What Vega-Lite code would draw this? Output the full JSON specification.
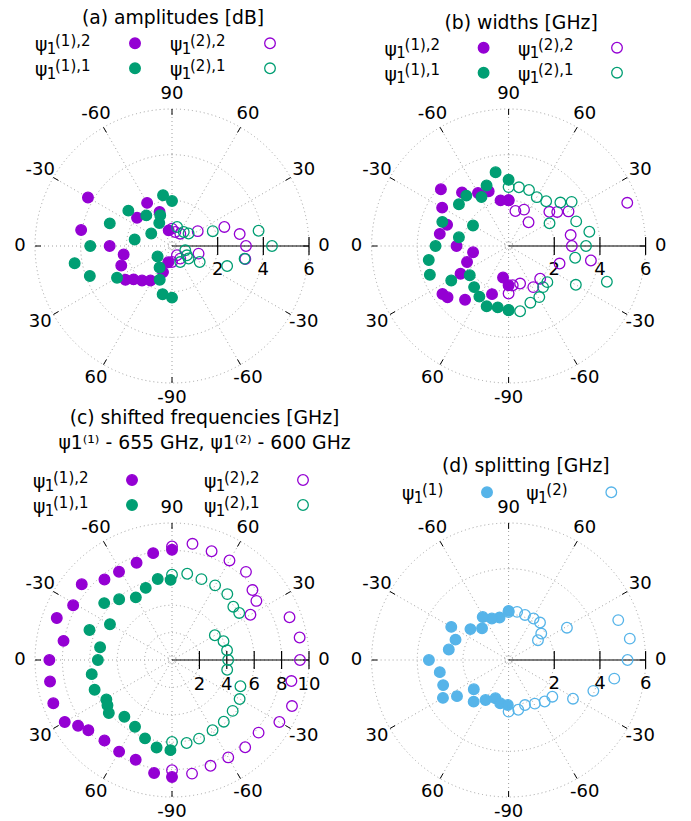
{
  "$schema": "https://vega.github.io/schema/vega-lite/v6.json",
  "background": "white",
  "padding": {"left": 14, "top": 9, "right": 5, "bottom": 5},
  "config": {
    "view": {"stroke": null},
    "font": "DejaVu Sans",
    "text": {"font": "DejaVu Sans", "color": "black"},
    "title": {"font": "DejaVu Sans", "fontSize": 18.8, "fontWeight": "normal", "color": "black"}
  },
  "datasets": {
    "angles": [
      {"pos": 0, "label": "0"}, {"pos": 30, "label": "30"}, {"pos": 60, "label": "60"}, {"pos": 90, "label": "90"},
      {"pos": 120, "label": "-60"}, {"pos": 150, "label": "-30"}, {"pos": 180, "label": "0"}, {"pos": 210, "label": "30"},
      {"pos": 240, "label": "60"}, {"pos": 270, "label": "-90"}, {"pos": 300, "label": "-60"}, {"pos": 330, "label": "-30"}
    ],
    "spokes": [{"pos": 0}, {"pos": 30}, {"pos": 60}, {"pos": 90}, {"pos": 120}, {"pos": 150}],
    "rings6": [{"r": 0.18}, {"r": 2}, {"r": 4}, {"r": 6}],
    "rings10": [{"r": 0.3}, {"r": 2}, {"r": 4}, {"r": 6}, {"r": 8}, {"r": 10}],
    "rticks6": [{"r": 2}, {"r": 4}, {"r": 6}],
    "rticks10": [{"r": 2}, {"r": 4}, {"r": 6}, {"r": 8}, {"r": 10}],
    "legend4": [
      {"col": "(1)", "comp": "2", "state": "(1)", "sup": "(1),2"},
      {"col": "(2)", "comp": "2", "state": "(2)", "sup": "(2),2"},
      {"col": "(1)", "comp": "1", "state": "(1)", "sup": "(1),1"},
      {"col": "(2)", "comp": "1", "state": "(2)", "sup": "(2),1"}
    ],
    "legend2": [
      {"col": "(1)", "state": "(1)", "sup": "(1)"},
      {"col": "(2)", "state": "(2)", "sup": "(2)"}
    ],
    "amplitudes": [
      {"state": "(1)", "comp": "2", "angle": -78, "value": 0.70},
      {"state": "(1)", "comp": "2", "angle": -70, "value": 1.59},
      {"state": "(1)", "comp": "2", "angle": -60, "value": 2.18},
      {"state": "(1)", "comp": "2", "angle": -39, "value": 1.97},
      {"state": "(1)", "comp": "2", "angle": -30, "value": 4.25},
      {"state": "(1)", "comp": "2", "angle": -10, "value": 4.04},
      {"state": "(1)", "comp": "2", "angle": 0, "value": 2.73},
      {"state": "(1)", "comp": "2", "angle": 10, "value": 2.15},
      {"state": "(1)", "comp": "2", "angle": 21, "value": 2.38},
      {"state": "(1)", "comp": "2", "angle": 36, "value": 2.52},
      {"state": "(1)", "comp": "2", "angle": 41, "value": 2.23},
      {"state": "(1)", "comp": "2", "angle": 49, "value": 2.00},
      {"state": "(1)", "comp": "2", "angle": 58, "value": 1.78},
      {"state": "(1)", "comp": "2", "angle": 71, "value": 1.21},
      {"state": "(1)", "comp": "2", "angle": 77, "value": 0.73},
      {"state": "(1)", "comp": "1", "angle": -90, "value": 1.97},
      {"state": "(1)", "comp": "1", "angle": -80, "value": 2.26},
      {"state": "(1)", "comp": "1", "angle": -69, "value": 1.44},
      {"state": "(1)", "comp": "1", "angle": -61, "value": 1.15},
      {"state": "(1)", "comp": "1", "angle": -50, "value": 1.75},
      {"state": "(1)", "comp": "1", "angle": -39, "value": 2.46},
      {"state": "(1)", "comp": "1", "angle": -31, "value": 1.06},
      {"state": "(1)", "comp": "1", "angle": -20, "value": 2.90},
      {"state": "(1)", "comp": "1", "angle": -10, "value": 1.66},
      {"state": "(1)", "comp": "1", "angle": 0, "value": 3.58},
      {"state": "(1)", "comp": "1", "angle": 10, "value": 4.33},
      {"state": "(1)", "comp": "1", "angle": 20, "value": 3.83},
      {"state": "(1)", "comp": "1", "angle": 30, "value": 2.78},
      {"state": "(1)", "comp": "1", "angle": 36, "value": 0.78},
      {"state": "(1)", "comp": "1", "angle": 60, "value": 1.09},
      {"state": "(1)", "comp": "1", "angle": 70, "value": 1.57},
      {"state": "(1)", "comp": "1", "angle": 79, "value": 2.15},
      {"state": "(1)", "comp": "1", "angle": 90, "value": 2.26},
      {"state": "(2)", "comp": "2", "angle": 90, "value": 0.76},
      {"state": "(2)", "comp": "2", "angle": 77, "value": 0.63},
      {"state": "(2)", "comp": "2", "angle": 56, "value": 0.65},
      {"state": "(2)", "comp": "2", "angle": 30, "value": 1.30},
      {"state": "(2)", "comp": "2", "angle": 20, "value": 2.44},
      {"state": "(2)", "comp": "2", "angle": 10, "value": 3.01},
      {"state": "(2)", "comp": "2", "angle": 0, "value": 3.24},
      {"state": "(2)", "comp": "2", "angle": -10, "value": 3.26},
      {"state": "(2)", "comp": "2", "angle": -16, "value": 1.21},
      {"state": "(2)", "comp": "2", "angle": -57, "value": 0.66},
      {"state": "(2)", "comp": "2", "angle": -62, "value": 0.46},
      {"state": "(2)", "comp": "2", "angle": -90, "value": 0.70},
      {"state": "(2)", "comp": "1", "angle": 75, "value": 0.86},
      {"state": "(2)", "comp": "1", "angle": 50, "value": 0.80},
      {"state": "(2)", "comp": "1", "angle": 37, "value": 0.91},
      {"state": "(2)", "comp": "1", "angle": 20, "value": 1.90},
      {"state": "(2)", "comp": "1", "angle": 10, "value": 3.85},
      {"state": "(2)", "comp": "1", "angle": 0, "value": 4.38},
      {"state": "(2)", "comp": "1", "angle": -10, "value": 3.23},
      {"state": "(2)", "comp": "1", "angle": -20, "value": 2.57},
      {"state": "(2)", "comp": "1", "angle": -30, "value": 1.40},
      {"state": "(2)", "comp": "1", "angle": -37, "value": 0.91},
      {"state": "(2)", "comp": "1", "angle": -32, "value": 0.77},
      {"state": "(2)", "comp": "1", "angle": -18, "value": 0.61},
      {"state": "(2)", "comp": "1", "angle": -63, "value": 0.79}
    ],
    "widths": [
      {"state": "(1)", "comp": "2", "angle": -90, "value": 2.00},
      {"state": "(1)", "comp": "2", "angle": -80, "value": 2.03},
      {"state": "(1)", "comp": "2", "angle": -70, "value": 2.55},
      {"state": "(1)", "comp": "2", "angle": -60, "value": 2.68},
      {"state": "(1)", "comp": "2", "angle": -49, "value": 3.11},
      {"state": "(1)", "comp": "2", "angle": -40, "value": 3.87},
      {"state": "(1)", "comp": "2", "angle": -30, "value": 3.36},
      {"state": "(1)", "comp": "2", "angle": -19, "value": 2.85},
      {"state": "(1)", "comp": "2", "angle": -10, "value": 3.06},
      {"state": "(1)", "comp": "2", "angle": 0, "value": 2.28},
      {"state": "(1)", "comp": "2", "angle": 10, "value": 1.58},
      {"state": "(1)", "comp": "2", "angle": 21, "value": 1.95},
      {"state": "(1)", "comp": "2", "angle": 30, "value": 2.43},
      {"state": "(1)", "comp": "2", "angle": 36, "value": 3.58},
      {"state": "(1)", "comp": "2", "angle": 40, "value": 3.49},
      {"state": "(1)", "comp": "2", "angle": 51, "value": 3.03},
      {"state": "(1)", "comp": "2", "angle": 71, "value": 2.23},
      {"state": "(1)", "comp": "2", "angle": 80, "value": 1.40},
      {"state": "(1)", "comp": "2", "angle": 90, "value": 1.72},
      {"state": "(1)", "comp": "1", "angle": -90, "value": 2.90},
      {"state": "(1)", "comp": "1", "angle": -80, "value": 3.28},
      {"state": "(1)", "comp": "1", "angle": -70, "value": 2.82},
      {"state": "(1)", "comp": "1", "angle": -61, "value": 2.45},
      {"state": "(1)", "comp": "1", "angle": -50, "value": 2.88},
      {"state": "(1)", "comp": "1", "angle": -40, "value": 2.84},
      {"state": "(1)", "comp": "1", "angle": -30, "value": 1.80},
      {"state": "(1)", "comp": "1", "angle": -20, "value": 3.09},
      {"state": "(1)", "comp": "1", "angle": -10, "value": 2.21},
      {"state": "(1)", "comp": "1", "angle": 0, "value": 3.20},
      {"state": "(1)", "comp": "1", "angle": 10, "value": 3.55},
      {"state": "(1)", "comp": "1", "angle": 20, "value": 3.67},
      {"state": "(1)", "comp": "1", "angle": 31, "value": 2.93},
      {"state": "(1)", "comp": "1", "angle": 37, "value": 2.13},
      {"state": "(1)", "comp": "1", "angle": 50, "value": 2.35},
      {"state": "(1)", "comp": "1", "angle": 60, "value": 2.56},
      {"state": "(1)", "comp": "1", "angle": 70, "value": 2.81},
      {"state": "(1)", "comp": "1", "angle": 80, "value": 2.73},
      {"state": "(1)", "comp": "1", "angle": 90, "value": 2.81},
      {"state": "(2)", "comp": "2", "angle": 90, "value": 2.00},
      {"state": "(2)", "comp": "2", "angle": 79, "value": 1.56},
      {"state": "(2)", "comp": "2", "angle": 67, "value": 1.73},
      {"state": "(2)", "comp": "2", "angle": 50, "value": 1.36},
      {"state": "(2)", "comp": "2", "angle": 40, "value": 2.33},
      {"state": "(2)", "comp": "2", "angle": 35, "value": 2.60},
      {"state": "(2)", "comp": "2", "angle": 30, "value": 3.03},
      {"state": "(2)", "comp": "2", "angle": 20, "value": 5.53},
      {"state": "(2)", "comp": "2", "angle": 10, "value": 2.76},
      {"state": "(2)", "comp": "2", "angle": 0, "value": 2.77},
      {"state": "(2)", "comp": "2", "angle": -10, "value": 3.66},
      {"state": "(2)", "comp": "2", "angle": -19, "value": 2.36},
      {"state": "(2)", "comp": "2", "angle": -46, "value": 1.99},
      {"state": "(2)", "comp": "2", "angle": -59, "value": 2.10},
      {"state": "(2)", "comp": "2", "angle": -73, "value": 1.72},
      {"state": "(2)", "comp": "2", "angle": -84, "value": 1.73},
      {"state": "(2)", "comp": "2", "angle": -90, "value": 2.08},
      {"state": "(2)", "comp": "1", "angle": 90, "value": 2.58},
      {"state": "(2)", "comp": "1", "angle": 80, "value": 2.61},
      {"state": "(2)", "comp": "1", "angle": 70, "value": 2.61},
      {"state": "(2)", "comp": "1", "angle": 60, "value": 2.47},
      {"state": "(2)", "comp": "1", "angle": 50, "value": 2.56},
      {"state": "(2)", "comp": "1", "angle": 40, "value": 2.96},
      {"state": "(2)", "comp": "1", "angle": 35, "value": 3.37},
      {"state": "(2)", "comp": "1", "angle": 29, "value": 2.05},
      {"state": "(2)", "comp": "1", "angle": 20, "value": 3.15},
      {"state": "(2)", "comp": "1", "angle": 10, "value": 3.59},
      {"state": "(2)", "comp": "1", "angle": 0, "value": 3.39},
      {"state": "(2)", "comp": "1", "angle": -10, "value": 2.96},
      {"state": "(2)", "comp": "1", "angle": -20, "value": 4.58},
      {"state": "(2)", "comp": "1", "angle": -30, "value": 3.40},
      {"state": "(2)", "comp": "1", "angle": -43, "value": 2.32},
      {"state": "(2)", "comp": "1", "angle": -50, "value": 2.35},
      {"state": "(2)", "comp": "1", "angle": -59, "value": 2.61},
      {"state": "(2)", "comp": "1", "angle": -69, "value": 2.66},
      {"state": "(2)", "comp": "1", "angle": -80, "value": 2.90},
      {"state": "(2)", "comp": "1", "angle": -90, "value": 2.80}
    ],
    "frequencies": [
      {"state": "(1)", "comp": "2", "angle": -90, "value": 8.05},
      {"state": "(1)", "comp": "2", "angle": -80, "value": 7.92},
      {"state": "(1)", "comp": "2", "angle": -70, "value": 7.56},
      {"state": "(1)", "comp": "2", "angle": -59, "value": 7.51},
      {"state": "(1)", "comp": "2", "angle": -50, "value": 7.67},
      {"state": "(1)", "comp": "2", "angle": -40, "value": 8.60},
      {"state": "(1)", "comp": "2", "angle": -29, "value": 8.25},
      {"state": "(1)", "comp": "2", "angle": -20, "value": 8.95},
      {"state": "(1)", "comp": "2", "angle": -10, "value": 8.04},
      {"state": "(1)", "comp": "2", "angle": 0, "value": 8.95},
      {"state": "(1)", "comp": "2", "angle": 10, "value": 9.04},
      {"state": "(1)", "comp": "2", "angle": 20, "value": 9.22},
      {"state": "(1)", "comp": "2", "angle": 30, "value": 9.04},
      {"state": "(1)", "comp": "2", "angle": 35, "value": 8.37},
      {"state": "(1)", "comp": "2", "angle": 40, "value": 7.97},
      {"state": "(1)", "comp": "2", "angle": 50, "value": 7.67},
      {"state": "(1)", "comp": "2", "angle": 60, "value": 7.72},
      {"state": "(1)", "comp": "2", "angle": 70, "value": 7.75},
      {"state": "(1)", "comp": "2", "angle": 81, "value": 8.35},
      {"state": "(1)", "comp": "2", "angle": 90, "value": 8.54},
      {"state": "(1)", "comp": "1", "angle": -89, "value": 5.85},
      {"state": "(1)", "comp": "1", "angle": -80, "value": 6.00},
      {"state": "(1)", "comp": "1", "angle": -70, "value": 5.60},
      {"state": "(1)", "comp": "1", "angle": -60, "value": 5.28},
      {"state": "(1)", "comp": "1", "angle": -49, "value": 5.88},
      {"state": "(1)", "comp": "1", "angle": -40, "value": 6.46},
      {"state": "(1)", "comp": "1", "angle": -30, "value": 5.23},
      {"state": "(1)", "comp": "1", "angle": -20, "value": 6.41},
      {"state": "(1)", "comp": "1", "angle": -10, "value": 5.33},
      {"state": "(1)", "comp": "1", "angle": 0, "value": 5.41},
      {"state": "(1)", "comp": "1", "angle": 10, "value": 5.95},
      {"state": "(1)", "comp": "1", "angle": 21, "value": 6.05},
      {"state": "(1)", "comp": "1", "angle": 31, "value": 5.59},
      {"state": "(1)", "comp": "1", "angle": 35, "value": 5.75},
      {"state": "(1)", "comp": "1", "angle": 40, "value": 6.02},
      {"state": "(1)", "comp": "1", "angle": 50, "value": 5.41},
      {"state": "(1)", "comp": "1", "angle": 61, "value": 5.57},
      {"state": "(1)", "comp": "1", "angle": 71, "value": 6.05},
      {"state": "(1)", "comp": "1", "angle": 80, "value": 6.48},
      {"state": "(1)", "comp": "1", "angle": 89, "value": 6.58},
      {"state": "(2)", "comp": "2", "angle": 90, "value": 8.29},
      {"state": "(2)", "comp": "2", "angle": 80, "value": 8.61},
      {"state": "(2)", "comp": "2", "angle": 70, "value": 8.45},
      {"state": "(2)", "comp": "2", "angle": 60, "value": 8.39},
      {"state": "(2)", "comp": "2", "angle": 50, "value": 8.40},
      {"state": "(2)", "comp": "2", "angle": 41, "value": 7.78},
      {"state": "(2)", "comp": "2", "angle": 35, "value": 7.52},
      {"state": "(2)", "comp": "2", "angle": 30, "value": 6.61},
      {"state": "(2)", "comp": "2", "angle": 20, "value": 9.13},
      {"state": "(2)", "comp": "2", "angle": 10, "value": 9.46},
      {"state": "(2)", "comp": "2", "angle": 0, "value": 9.34},
      {"state": "(2)", "comp": "2", "angle": -10, "value": 8.85},
      {"state": "(2)", "comp": "2", "angle": -21, "value": 9.38},
      {"state": "(2)", "comp": "2", "angle": -30, "value": 9.05},
      {"state": "(2)", "comp": "2", "angle": -40, "value": 8.25},
      {"state": "(2)", "comp": "2", "angle": -50, "value": 8.31},
      {"state": "(2)", "comp": "2", "angle": -60, "value": 8.21},
      {"state": "(2)", "comp": "2", "angle": -70, "value": 8.22},
      {"state": "(2)", "comp": "2", "angle": -80, "value": 8.42},
      {"state": "(2)", "comp": "2", "angle": -90, "value": 8.05},
      {"state": "(2)", "comp": "1", "angle": 90, "value": 6.22},
      {"state": "(2)", "comp": "1", "angle": 80, "value": 6.39},
      {"state": "(2)", "comp": "1", "angle": 70, "value": 6.28},
      {"state": "(2)", "comp": "1", "angle": 60, "value": 6.29},
      {"state": "(2)", "comp": "1", "angle": 50, "value": 6.28},
      {"state": "(2)", "comp": "1", "angle": 41, "value": 5.93},
      {"state": "(2)", "comp": "1", "angle": 35, "value": 5.99},
      {"state": "(2)", "comp": "1", "angle": 30, "value": 3.61},
      {"state": "(2)", "comp": "1", "angle": 20, "value": 4.00},
      {"state": "(2)", "comp": "1", "angle": 10, "value": 4.08},
      {"state": "(2)", "comp": "1", "angle": 0, "value": 4.10},
      {"state": "(2)", "comp": "1", "angle": -10, "value": 4.09},
      {"state": "(2)", "comp": "1", "angle": -21, "value": 5.35},
      {"state": "(2)", "comp": "1", "angle": -30, "value": 5.70},
      {"state": "(2)", "comp": "1", "angle": -40, "value": 5.78},
      {"state": "(2)", "comp": "1", "angle": -50, "value": 5.88},
      {"state": "(2)", "comp": "1", "angle": -60, "value": 5.92},
      {"state": "(2)", "comp": "1", "angle": -71, "value": 6.07},
      {"state": "(2)", "comp": "1", "angle": -80, "value": 6.15},
      {"state": "(2)", "comp": "1", "angle": -90, "value": 5.98}
    ],
    "splitting": [
      {"state": "(1)", "angle": -90, "value": 2.15},
      {"state": "(1)", "angle": -78, "value": 1.90},
      {"state": "(1)", "angle": -68, "value": 1.96},
      {"state": "(1)", "angle": -59, "value": 2.20},
      {"state": "(1)", "angle": -50, "value": 1.81},
      {"state": "(1)", "angle": -39, "value": 2.15},
      {"state": "(1)", "angle": -30, "value": 2.90},
      {"state": "(1)", "angle": -21, "value": 2.49},
      {"state": "(1)", "angle": -10, "value": 2.66},
      {"state": "(1)", "angle": 0, "value": 3.49},
      {"state": "(1)", "angle": 10, "value": 3.06},
      {"state": "(1)", "angle": 21, "value": 3.07},
      {"state": "(1)", "angle": 30, "value": 3.32},
      {"state": "(1)", "angle": 35, "value": 2.76},
      {"state": "(1)", "angle": 40, "value": 1.99},
      {"state": "(1)", "angle": 50, "value": 2.38},
      {"state": "(1)", "angle": 60, "value": 2.02},
      {"state": "(1)", "angle": 71, "value": 1.77},
      {"state": "(1)", "angle": 79, "value": 1.93},
      {"state": "(1)", "angle": 89, "value": 1.97},
      {"state": "(2)", "angle": 90, "value": 2.10},
      {"state": "(2)", "angle": 80, "value": 2.14},
      {"state": "(2)", "angle": 70, "value": 2.10},
      {"state": "(2)", "angle": 59, "value": 2.12},
      {"state": "(2)", "angle": 50, "value": 2.14},
      {"state": "(2)", "angle": 39, "value": 1.84},
      {"state": "(2)", "angle": 34, "value": 1.55},
      {"state": "(2)", "angle": 29, "value": 2.92},
      {"state": "(2)", "angle": 20, "value": 5.11},
      {"state": "(2)", "angle": 10, "value": 5.39},
      {"state": "(2)", "angle": 0, "value": 5.21},
      {"state": "(2)", "angle": -10, "value": 4.70},
      {"state": "(2)", "angle": -20, "value": 3.95},
      {"state": "(2)", "angle": -31, "value": 3.29},
      {"state": "(2)", "angle": -40, "value": 2.50},
      {"state": "(2)", "angle": -49, "value": 2.41},
      {"state": "(2)", "angle": -59, "value": 2.23},
      {"state": "(2)", "angle": -70, "value": 2.10},
      {"state": "(2)", "angle": -79, "value": 2.22},
      {"state": "(2)", "angle": -90, "value": 2.26}
    ]
  },
  "columns": 2,
  "spacing": {"row": 140, "column": 62.6},
  "bounds": "flush",
  "resolve": {"scale": {"radius": "independent"}},
  "concat": [
    {
      "width": 274, "height": 274,
      "title": {"text": "(a) amplitudes [dB]", "frame": "group", "anchor": "middle", "baseline": "alphabetic", "offset": -9.3, "dx": 1},
      "layer": [
        {"layer": [
          {"data": {"name": "rings6"}, "mark": {"type": "arc", "filled": false, "stroke": "#a0a0a0", "strokeWidth": 1, "strokeDash": [1, 3], "theta": 0, "theta2": 6.2832},
           "encoding": {"radius": {"field": "r", "type": "quantitative", "stack": null, "scale": {"type": "linear", "domain": [0, 6], "range": [0, 137], "zero": true, "nice": false}}}},
          {"data": {"name": "spokes"},
           "transform": [{"calculate": "6*cos(datum.pos*PI/180)", "as": "x"}, {"calculate": "6*sin(datum.pos*PI/180)", "as": "y"}, {"calculate": "-datum.x", "as": "x2"}, {"calculate": "-datum.y", "as": "y2"}],
           "mark": {"type": "rule", "stroke": "#a0a0a0", "strokeWidth": 1, "strokeDash": [1, 3]},
           "encoding": {"x": {"field": "x", "type": "quantitative", "scale": {"domain": [-6, 6], "nice": false, "zero": false}, "axis": null},
                        "y": {"field": "y", "type": "quantitative", "scale": {"domain": [-6, 6], "nice": false, "zero": false}, "axis": null},
                        "x2": {"field": "x2"}, "y2": {"field": "y2"}}},
          {"data": {"name": "angles"},
           "transform": [{"calculate": "cos(datum.pos*PI/180)", "as": "c"}, {"calculate": "sin(datum.pos*PI/180)", "as": "s"}, {"calculate": "6*datum.c", "as": "x"}, {"calculate": "6*datum.s", "as": "y"}, {"calculate": "5.74*datum.c", "as": "x2"}, {"calculate": "5.74*datum.s", "as": "y2"}],
           "mark": {"type": "rule", "color": "black", "strokeWidth": 1},
           "encoding": {"x": {"field": "x", "type": "quantitative"}, "y": {"field": "y", "type": "quantitative"}, "x2": {"field": "x2"}, "y2": {"field": "y2"}}},
          {"data": {"name": "angles"},
           "transform": [{"calculate": "6.66*cos(datum.pos*PI/180)", "as": "x"}, {"calculate": "6.66*sin(datum.pos*PI/180)", "as": "y"}],
           "mark": {"type": "text", "fontSize": 18, "align": "center", "baseline": "middle"},
           "encoding": {"x": {"field": "x", "type": "quantitative"}, "y": {"field": "y", "type": "quantitative"}, "text": {"field": "label"}}},
          {"data": {"values": [{}]}, "mark": {"type": "rule", "color": "black", "strokeWidth": 1.2},
           "encoding": {"x": {"datum": 0, "type": "quantitative"}, "x2": {"datum": 6}, "y": {"datum": 0, "type": "quantitative"}}},
          {"data": {"name": "rticks6"}, "mark": {"type": "rule", "color": "black", "strokeWidth": 1.2},
           "encoding": {"x": {"field": "r", "type": "quantitative"}, "y": {"datum": -0.39, "type": "quantitative"}, "y2": {"datum": 0.39}}},
          {"data": {"name": "rticks6"}, "mark": {"type": "text", "fontSize": 18, "align": "center", "baseline": "middle"},
           "encoding": {"x": {"field": "r", "type": "quantitative"}, "y": {"datum": -1.05, "type": "quantitative"}, "text": {"field": "r", "type": "quantitative"}}},
          {"data": {"name": "amplitudes"},
           "transform": [{"calculate": "(datum.state === '(1)' ? datum.angle + 180 : datum.angle)*PI/180", "as": "phi"}, {"calculate": "datum.value*cos(datum.phi)", "as": "x"}, {"calculate": "datum.value*sin(datum.phi)", "as": "y"}],
           "mark": {"type": "point", "shape": "circle", "size": 113, "strokeWidth": 1.3, "opacity": 1},
           "encoding": {"x": {"field": "x", "type": "quantitative"}, "y": {"field": "y", "type": "quantitative"},
                        "fill": {"condition": {"test": "datum.state === '(2)'", "value": "transparent"}, "field": "comp", "type": "nominal", "scale": {"domain": ["2", "1"], "range": ["#9400d3", "#009e73"]}, "legend": null},
                        "stroke": {"field": "comp", "type": "nominal", "scale": {"domain": ["2", "1"], "range": ["#9400d3", "#009e73"]}, "legend": null}}}
        ]},
        {"data": {"name": "legend4"}, "layer": [
          {"mark": {"type": "point", "shape": "circle", "size": 113, "strokeWidth": 1.3, "opacity": 1},
           "encoding": {"x": {"field": "col", "type": "nominal", "scale": {"type": "point", "domain": ["(1)", "(2)"], "range": [100, 235], "padding": 0}, "axis": null},
                        "y": {"field": "comp", "type": "nominal", "scale": {"type": "point", "domain": ["2", "1"], "range": [-65.7, -40.7], "padding": 0}, "axis": null},
                        "fill": {"condition": {"test": "datum.state === '(2)'", "value": "transparent"}, "field": "comp", "type": "nominal", "scale": {"domain": ["2", "1"], "range": ["#9400d3", "#009e73"]}, "legend": null},
                        "stroke": {"field": "comp", "type": "nominal", "scale": {"domain": ["2", "1"], "range": ["#9400d3", "#009e73"]}, "legend": null}}},
          {"mark": {"type": "text", "text": "ψ", "align": "left", "baseline": "alphabetic", "dx": -100, "dy": 8, "fontSize": 18.8},
           "encoding": {"x": {"field": "col", "type": "nominal"}, "y": {"field": "comp", "type": "nominal"}}},
          {"mark": {"type": "text", "text": "1", "align": "left", "baseline": "alphabetic", "dx": -88.3, "dy": 10.7, "fontSize": 15},
           "encoding": {"x": {"field": "col", "type": "nominal"}, "y": {"field": "comp", "type": "nominal"}}},
          {"mark": {"type": "text", "align": "left", "baseline": "alphabetic", "dx": -80, "dy": 2.5, "fontSize": 15},
           "encoding": {"x": {"field": "col", "type": "nominal"}, "y": {"field": "comp", "type": "nominal"}, "text": {"field": "sup"}}}
        ]}
      ],
      "resolve": {"scale": {"x": "independent", "y": "independent"}}
    },
    {
      "width": 274, "height": 274,
      "title": {"text": "(b) widths [GHz]", "frame": "group", "anchor": "middle", "baseline": "alphabetic", "offset": -9.8, "dx": 12.5},
      "layer": [
        {"layer": [
          {"data": {"name": "rings6"}, "mark": {"type": "arc", "filled": false, "stroke": "#a0a0a0", "strokeWidth": 1, "strokeDash": [1, 3], "theta": 0, "theta2": 6.2832},
           "encoding": {"radius": {"field": "r", "type": "quantitative", "stack": null, "scale": {"type": "linear", "domain": [0, 6], "range": [0, 137], "zero": true, "nice": false}}}},
          {"data": {"name": "spokes"},
           "transform": [{"calculate": "6*cos(datum.pos*PI/180)", "as": "x"}, {"calculate": "6*sin(datum.pos*PI/180)", "as": "y"}, {"calculate": "-datum.x", "as": "x2"}, {"calculate": "-datum.y", "as": "y2"}],
           "mark": {"type": "rule", "stroke": "#a0a0a0", "strokeWidth": 1, "strokeDash": [1, 3]},
           "encoding": {"x": {"field": "x", "type": "quantitative", "scale": {"domain": [-6, 6], "nice": false, "zero": false}, "axis": null},
                        "y": {"field": "y", "type": "quantitative", "scale": {"domain": [-6, 6], "nice": false, "zero": false}, "axis": null},
                        "x2": {"field": "x2"}, "y2": {"field": "y2"}}},
          {"data": {"name": "angles"},
           "transform": [{"calculate": "cos(datum.pos*PI/180)", "as": "c"}, {"calculate": "sin(datum.pos*PI/180)", "as": "s"}, {"calculate": "6*datum.c", "as": "x"}, {"calculate": "6*datum.s", "as": "y"}, {"calculate": "5.74*datum.c", "as": "x2"}, {"calculate": "5.74*datum.s", "as": "y2"}],
           "mark": {"type": "rule", "color": "black", "strokeWidth": 1},
           "encoding": {"x": {"field": "x", "type": "quantitative"}, "y": {"field": "y", "type": "quantitative"}, "x2": {"field": "x2"}, "y2": {"field": "y2"}}},
          {"data": {"name": "angles"},
           "transform": [{"calculate": "6.66*cos(datum.pos*PI/180)", "as": "x"}, {"calculate": "6.66*sin(datum.pos*PI/180)", "as": "y"}],
           "mark": {"type": "text", "fontSize": 18, "align": "center", "baseline": "middle"},
           "encoding": {"x": {"field": "x", "type": "quantitative"}, "y": {"field": "y", "type": "quantitative"}, "text": {"field": "label"}}},
          {"data": {"values": [{}]}, "mark": {"type": "rule", "color": "black", "strokeWidth": 1.2},
           "encoding": {"x": {"datum": 0, "type": "quantitative"}, "x2": {"datum": 6}, "y": {"datum": 0, "type": "quantitative"}}},
          {"data": {"name": "rticks6"}, "mark": {"type": "rule", "color": "black", "strokeWidth": 1.2},
           "encoding": {"x": {"field": "r", "type": "quantitative"}, "y": {"datum": -0.39, "type": "quantitative"}, "y2": {"datum": 0.39}}},
          {"data": {"name": "rticks6"}, "mark": {"type": "text", "fontSize": 18, "align": "center", "baseline": "middle"},
           "encoding": {"x": {"field": "r", "type": "quantitative"}, "y": {"datum": -1.05, "type": "quantitative"}, "text": {"field": "r", "type": "quantitative"}}},
          {"data": {"name": "widths"},
           "transform": [{"calculate": "(datum.state === '(1)' ? datum.angle + 180 : datum.angle)*PI/180", "as": "phi"}, {"calculate": "datum.value*cos(datum.phi)", "as": "x"}, {"calculate": "datum.value*sin(datum.phi)", "as": "y"}],
           "mark": {"type": "point", "shape": "circle", "size": 113, "strokeWidth": 1.3, "opacity": 1},
           "encoding": {"x": {"field": "x", "type": "quantitative"}, "y": {"field": "y", "type": "quantitative"},
                        "fill": {"condition": {"test": "datum.state === '(2)'", "value": "transparent"}, "field": "comp", "type": "nominal", "scale": {"domain": ["2", "1"], "range": ["#9400d3", "#009e73"]}, "legend": null},
                        "stroke": {"field": "comp", "type": "nominal", "scale": {"domain": ["2", "1"], "range": ["#9400d3", "#009e73"]}, "legend": null}}}
        ]},
        {"data": {"name": "legend4"}, "layer": [
          {"mark": {"type": "point", "shape": "circle", "size": 113, "strokeWidth": 1.3, "opacity": 1},
           "encoding": {"x": {"field": "col", "type": "nominal", "scale": {"type": "point", "domain": ["(1)", "(2)"], "range": [112, 245.4], "padding": 0}, "axis": null},
                        "y": {"field": "comp", "type": "nominal", "scale": {"type": "point", "domain": ["2", "1"], "range": [-61.3, -36.3], "padding": 0}, "axis": null},
                        "fill": {"condition": {"test": "datum.state === '(2)'", "value": "transparent"}, "field": "comp", "type": "nominal", "scale": {"domain": ["2", "1"], "range": ["#9400d3", "#009e73"]}, "legend": null},
                        "stroke": {"field": "comp", "type": "nominal", "scale": {"domain": ["2", "1"], "range": ["#9400d3", "#009e73"]}, "legend": null}}},
          {"mark": {"type": "text", "text": "ψ", "align": "left", "baseline": "alphabetic", "dx": -99, "dy": 8, "fontSize": 18.8},
           "encoding": {"x": {"field": "col", "type": "nominal"}, "y": {"field": "comp", "type": "nominal"}}},
          {"mark": {"type": "text", "text": "1", "align": "left", "baseline": "alphabetic", "dx": -87.3, "dy": 10.7, "fontSize": 15},
           "encoding": {"x": {"field": "col", "type": "nominal"}, "y": {"field": "comp", "type": "nominal"}}},
          {"mark": {"type": "text", "align": "left", "baseline": "alphabetic", "dx": -79, "dy": 2.5, "fontSize": 15},
           "encoding": {"x": {"field": "col", "type": "nominal"}, "y": {"field": "comp", "type": "nominal"}, "text": {"field": "sup"}}}
        ]}
      ],
      "resolve": {"scale": {"x": "independent", "y": "independent"}}
    },
    {
      "width": 274, "height": 274,
      "title": {"text": ["(c) shifted frequencies [GHz]", "ψ1⁽¹⁾ - 655 GHz, ψ1⁽²⁾ - 600 GHz"], "frame": "group", "anchor": "middle", "baseline": "alphabetic", "lineHeight": 25, "offset": 2.7, "dx": 32.5},
      "layer": [
        {"layer": [
          {"data": {"name": "rings10"}, "mark": {"type": "arc", "filled": false, "stroke": "#a0a0a0", "strokeWidth": 1, "strokeDash": [1, 3], "theta": 0, "theta2": 6.2832},
           "encoding": {"radius": {"field": "r", "type": "quantitative", "stack": null, "scale": {"type": "linear", "domain": [0, 10], "range": [0, 137], "zero": true, "nice": false}}}},
          {"data": {"name": "spokes"},
           "transform": [{"calculate": "10*cos(datum.pos*PI/180)", "as": "x"}, {"calculate": "10*sin(datum.pos*PI/180)", "as": "y"}, {"calculate": "-datum.x", "as": "x2"}, {"calculate": "-datum.y", "as": "y2"}],
           "mark": {"type": "rule", "stroke": "#a0a0a0", "strokeWidth": 1, "strokeDash": [1, 3]},
           "encoding": {"x": {"field": "x", "type": "quantitative", "scale": {"domain": [-10, 10], "nice": false, "zero": false}, "axis": null},
                        "y": {"field": "y", "type": "quantitative", "scale": {"domain": [-10, 10], "nice": false, "zero": false}, "axis": null},
                        "x2": {"field": "x2"}, "y2": {"field": "y2"}}},
          {"data": {"name": "angles"},
           "transform": [{"calculate": "cos(datum.pos*PI/180)", "as": "c"}, {"calculate": "sin(datum.pos*PI/180)", "as": "s"}, {"calculate": "10*datum.c", "as": "x"}, {"calculate": "10*datum.s", "as": "y"}, {"calculate": "9.56*datum.c", "as": "x2"}, {"calculate": "9.56*datum.s", "as": "y2"}],
           "mark": {"type": "rule", "color": "black", "strokeWidth": 1},
           "encoding": {"x": {"field": "x", "type": "quantitative"}, "y": {"field": "y", "type": "quantitative"}, "x2": {"field": "x2"}, "y2": {"field": "y2"}}},
          {"data": {"name": "angles"},
           "transform": [{"calculate": "11.1*cos(datum.pos*PI/180)", "as": "x"}, {"calculate": "11.1*sin(datum.pos*PI/180)", "as": "y"}],
           "mark": {"type": "text", "fontSize": 18, "align": "center", "baseline": "middle"},
           "encoding": {"x": {"field": "x", "type": "quantitative"}, "y": {"field": "y", "type": "quantitative"}, "text": {"field": "label"}}},
          {"data": {"values": [{}]}, "mark": {"type": "rule", "color": "black", "strokeWidth": 1.2},
           "encoding": {"x": {"datum": 0, "type": "quantitative"}, "x2": {"datum": 10}, "y": {"datum": 0, "type": "quantitative"}}},
          {"data": {"name": "rticks10"}, "mark": {"type": "rule", "color": "black", "strokeWidth": 1.2},
           "encoding": {"x": {"field": "r", "type": "quantitative"}, "y": {"datum": -0.66, "type": "quantitative"}, "y2": {"datum": 0.66}}},
          {"data": {"name": "rticks10"}, "mark": {"type": "text", "fontSize": 18, "align": "center", "baseline": "middle"},
           "encoding": {"x": {"field": "r", "type": "quantitative"}, "y": {"datum": -1.83, "type": "quantitative"}, "text": {"field": "r", "type": "quantitative"}}},
          {"data": {"name": "frequencies"},
           "transform": [{"calculate": "(datum.state === '(1)' ? datum.angle + 180 : datum.angle)*PI/180", "as": "phi"}, {"calculate": "datum.value*cos(datum.phi)", "as": "x"}, {"calculate": "datum.value*sin(datum.phi)", "as": "y"}],
           "mark": {"type": "point", "shape": "circle", "size": 113, "strokeWidth": 1.3, "opacity": 1},
           "encoding": {"x": {"field": "x", "type": "quantitative"}, "y": {"field": "y", "type": "quantitative"},
                        "fill": {"condition": {"test": "datum.state === '(2)'", "value": "transparent"}, "field": "comp", "type": "nominal", "scale": {"domain": ["2", "1"], "range": ["#9400d3", "#009e73"]}, "legend": null},
                        "stroke": {"field": "comp", "type": "nominal", "scale": {"domain": ["2", "1"], "range": ["#9400d3", "#009e73"]}, "legend": null}}}
        ]},
        {"data": {"name": "legend4"}, "layer": [
          {"mark": {"type": "point", "shape": "circle", "size": 113, "strokeWidth": 1.3, "opacity": 1},
           "encoding": {"x": {"field": "col", "type": "nominal", "scale": {"type": "point", "domain": ["(1)", "(2)"], "range": [97, 268], "padding": 0}, "axis": null},
                        "y": {"field": "comp", "type": "nominal", "scale": {"type": "point", "domain": ["2", "1"], "range": [-43, -18], "padding": 0}, "axis": null},
                        "fill": {"condition": {"test": "datum.state === '(2)'", "value": "transparent"}, "field": "comp", "type": "nominal", "scale": {"domain": ["2", "1"], "range": ["#9400d3", "#009e73"]}, "legend": null},
                        "stroke": {"field": "comp", "type": "nominal", "scale": {"domain": ["2", "1"], "range": ["#9400d3", "#009e73"]}, "legend": null}}},
          {"mark": {"type": "text", "text": "ψ", "align": "left", "baseline": "alphabetic", "dx": -99, "dy": 8, "fontSize": 18.8},
           "encoding": {"x": {"field": "col", "type": "nominal"}, "y": {"field": "comp", "type": "nominal"}}},
          {"mark": {"type": "text", "text": "1", "align": "left", "baseline": "alphabetic", "dx": -87.3, "dy": 10.7, "fontSize": 15},
           "encoding": {"x": {"field": "col", "type": "nominal"}, "y": {"field": "comp", "type": "nominal"}}},
          {"mark": {"type": "text", "align": "left", "baseline": "alphabetic", "dx": -79, "dy": 2.5, "fontSize": 15},
           "encoding": {"x": {"field": "col", "type": "nominal"}, "y": {"field": "comp", "type": "nominal"}, "text": {"field": "sup"}}}
        ]}
      ],
      "resolve": {"scale": {"x": "independent", "y": "independent"}}
    },
    {
      "width": 274, "height": 274,
      "title": {"text": "(d) splitting [GHz]", "frame": "group", "anchor": "middle", "baseline": "alphabetic", "offset": -8.3, "dx": 17.2},
      "layer": [
        {"layer": [
          {"data": {"name": "rings6"}, "mark": {"type": "arc", "filled": false, "stroke": "#a0a0a0", "strokeWidth": 1, "strokeDash": [1, 3], "theta": 0, "theta2": 6.2832},
           "encoding": {"radius": {"field": "r", "type": "quantitative", "stack": null, "scale": {"type": "linear", "domain": [0, 6], "range": [0, 137], "zero": true, "nice": false}}}},
          {"data": {"name": "spokes"},
           "transform": [{"calculate": "6*cos(datum.pos*PI/180)", "as": "x"}, {"calculate": "6*sin(datum.pos*PI/180)", "as": "y"}, {"calculate": "-datum.x", "as": "x2"}, {"calculate": "-datum.y", "as": "y2"}],
           "mark": {"type": "rule", "stroke": "#a0a0a0", "strokeWidth": 1, "strokeDash": [1, 3]},
           "encoding": {"x": {"field": "x", "type": "quantitative", "scale": {"domain": [-6, 6], "nice": false, "zero": false}, "axis": null},
                        "y": {"field": "y", "type": "quantitative", "scale": {"domain": [-6, 6], "nice": false, "zero": false}, "axis": null},
                        "x2": {"field": "x2"}, "y2": {"field": "y2"}}},
          {"data": {"name": "angles"},
           "transform": [{"calculate": "cos(datum.pos*PI/180)", "as": "c"}, {"calculate": "sin(datum.pos*PI/180)", "as": "s"}, {"calculate": "6*datum.c", "as": "x"}, {"calculate": "6*datum.s", "as": "y"}, {"calculate": "5.74*datum.c", "as": "x2"}, {"calculate": "5.74*datum.s", "as": "y2"}],
           "mark": {"type": "rule", "color": "black", "strokeWidth": 1},
           "encoding": {"x": {"field": "x", "type": "quantitative"}, "y": {"field": "y", "type": "quantitative"}, "x2": {"field": "x2"}, "y2": {"field": "y2"}}},
          {"data": {"name": "angles"},
           "transform": [{"calculate": "6.66*cos(datum.pos*PI/180)", "as": "x"}, {"calculate": "6.66*sin(datum.pos*PI/180)", "as": "y"}],
           "mark": {"type": "text", "fontSize": 18, "align": "center", "baseline": "middle"},
           "encoding": {"x": {"field": "x", "type": "quantitative"}, "y": {"field": "y", "type": "quantitative"}, "text": {"field": "label"}}},
          {"data": {"values": [{}]}, "mark": {"type": "rule", "color": "black", "strokeWidth": 1.2},
           "encoding": {"x": {"datum": 0, "type": "quantitative"}, "x2": {"datum": 6}, "y": {"datum": 0, "type": "quantitative"}}},
          {"data": {"name": "rticks6"}, "mark": {"type": "rule", "color": "black", "strokeWidth": 1.2},
           "encoding": {"x": {"field": "r", "type": "quantitative"}, "y": {"datum": -0.39, "type": "quantitative"}, "y2": {"datum": 0.39}}},
          {"data": {"name": "rticks6"}, "mark": {"type": "text", "fontSize": 18, "align": "center", "baseline": "middle"},
           "encoding": {"x": {"field": "r", "type": "quantitative"}, "y": {"datum": -1.05, "type": "quantitative"}, "text": {"field": "r", "type": "quantitative"}}},
          {"data": {"name": "splitting"},
           "transform": [{"calculate": "(datum.state === '(1)' ? datum.angle + 180 : datum.angle)*PI/180", "as": "phi"}, {"calculate": "datum.value*cos(datum.phi)", "as": "x"}, {"calculate": "datum.value*sin(datum.phi)", "as": "y"}],
           "mark": {"type": "point", "shape": "circle", "size": 113, "strokeWidth": 1.3, "opacity": 1},
           "encoding": {"x": {"field": "x", "type": "quantitative"}, "y": {"field": "y", "type": "quantitative"},
                        "fill": {"condition": {"test": "datum.state === '(2)'", "value": "transparent"}, "value": "#56b4e9"},
                        "stroke": {"value": "#56b4e9"}}}
        ]},
        {"data": {"name": "legend2"}, "layer": [
          {"mark": {"type": "point", "shape": "circle", "size": 113, "strokeWidth": 1.3, "opacity": 1},
           "encoding": {"x": {"field": "col", "type": "nominal", "scale": {"type": "point", "domain": ["(1)", "(2)"], "range": [115.4, 239.7], "padding": 0}, "axis": null},
                        "y": {"field": "col", "type": "nominal", "scale": {"type": "point", "domain": ["(1)", "(2)"], "range": [-30.7, -30.7], "padding": 0}, "axis": null},
                        "fill": {"condition": {"test": "datum.state === '(2)'", "value": "transparent"}, "value": "#56b4e9"},
                        "stroke": {"value": "#56b4e9"}}},
          {"mark": {"type": "text", "text": "ψ", "align": "left", "baseline": "alphabetic", "dx": -85, "dy": 8, "fontSize": 18.8},
           "encoding": {"x": {"field": "col", "type": "nominal"}, "y": {"field": "col", "type": "nominal"}}},
          {"mark": {"type": "text", "text": "1", "align": "left", "baseline": "alphabetic", "dx": -73.3, "dy": 10.7, "fontSize": 15},
           "encoding": {"x": {"field": "col", "type": "nominal"}, "y": {"field": "col", "type": "nominal"}}},
          {"mark": {"type": "text", "align": "left", "baseline": "alphabetic", "dx": -65, "dy": 2.5, "fontSize": 15},
           "encoding": {"x": {"field": "col", "type": "nominal"}, "y": {"field": "col", "type": "nominal"}, "text": {"field": "sup"}}}
        ]}
      ],
      "resolve": {"scale": {"x": "independent", "y": "independent"}}
    }
  ]
}
